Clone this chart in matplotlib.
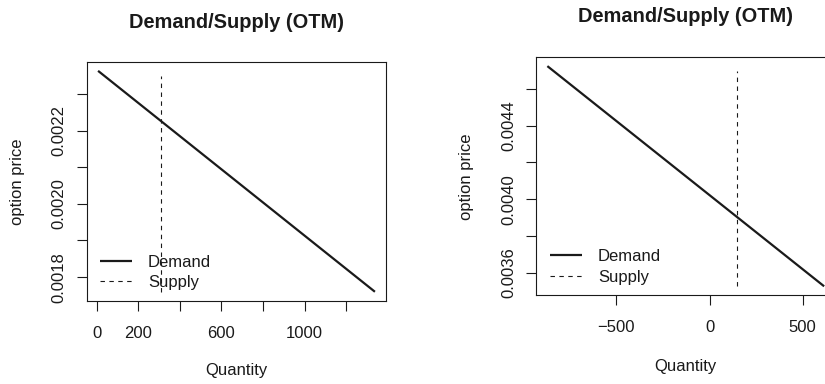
import matplotlib
matplotlib.use("Agg")
import matplotlib.pyplot as plt

# Demand / supply curves for the two option panels
left_demand_qty = [7, 1338]
left_demand_price = [0.002363, 0.001760]
left_supply_qty = [309, 309]
left_supply_price = [0.001759, 0.002350]

right_demand_qty = [-870, 615]
right_demand_price = [0.004725, 0.003525]
right_supply_qty = [145, 145]
right_supply_price = [0.003524, 0.004696]

left_xticks = [0, 200, 400, 600, 800, 1000, 1200]
left_xlabels = ["0", "200", "", "600", "", "1000", ""]
left_yticks = [0.0018, 0.0019, 0.0020, 0.0021, 0.0022, 0.0023]
left_ylabels = ["0.0018", "", "0.0020", "", "0.0022", ""]

right_xticks = [-500, 0, 500]
right_xlabels = ["\u2212500", "0", "500"]
right_yticks = [0.0036, 0.0038, 0.0040, 0.0042, 0.0044, 0.0046]
right_ylabels = ["0.0036", "", "0.0040", "", "0.0044", ""]

title = "Demand/Supply (OTM)"
xlabel = "Quantity"
ylabel = "option price"
legend_labels = ["Demand", "Supply"]

plt.rcParams["font.family"] = ["Liberation Sans", "DejaVu Sans"]
INK = "#1a1a1a"

W, H = 825, 384
fig = plt.figure(figsize=(W / 100, H / 100), dpi=100)


def box(l, t, r, b):
    return [l / W, 1 - b / H, (r - l) / W, (b - t) / H]


def fx(x):
    return x / W


def fy(y):
    return 1 - y / H


def panel(rect, dq, dp, sq, sp, xt, xl, yt, yl):
    ax = fig.add_axes(rect)
    ax.plot(dq, dp, color=INK, lw=1.6, solid_capstyle="butt")
    ax.plot(sq, sp, color=INK, lw=0.8, ls=(0, (4, 4)))
    ax.margins(x=0.04, y=0.04)
    ax.set_xticks(xt)
    ax.set_xticklabels(xl)
    ax.set_yticks(yt)
    ax.set_yticklabels(yl, rotation=90, va="center")
    ax.tick_params(length=7.5, width=0.8, color=INK, labelcolor=INK,
                   labelsize=12)
    ax.tick_params(axis="x", pad=10.5)
    ax.tick_params(axis="y", pad=7.2)
    for s in ax.spines.values():
        s.set_linewidth(0.8)
        s.set_color(INK)
    return ax


ax1 = panel(box(87, 62, 386, 301), left_demand_qty, left_demand_price,
            left_supply_qty, left_supply_price,
            left_xticks, left_xlabels, left_yticks, left_ylabels)
ax2 = panel(box(536.3, 57.3, 835.2, 295.3), right_demand_qty, right_demand_price,
            right_supply_qty, right_supply_price,
            right_xticks, right_xlabels, right_yticks, right_ylabels)

for ax, l in ((ax1, 101), (ax2, 551)):
    pos = ax.get_position()
    ax.legend(legend_labels, loc="lower left", frameon=False,
              fontsize=12, handlelength=1.95, handletextpad=0.95,
              labelspacing=0.32, borderpad=0, borderaxespad=0,
              bbox_to_anchor=((fx(l) - pos.x0) / pos.width - 0.005, 0.045),
              labelcolor=INK)

# Titles and axis labels
for cx, ty, xly in ((236.5, 22.7, 371), (685.8, 16, 366.7)):
    fig.text(fx(cx), fy(ty), title, ha="center", va="center",
             fontsize=14.4, fontweight="bold", color=INK)
    fig.text(fx(cx), fy(xly), xlabel, ha="center", va="center",
             fontsize=12, color=INK)

for ax, lx in ((ax1, 18), (ax2, 467)):
    pos = ax.get_position()
    fig.text(fx(lx), (pos.y0 + pos.y1) / 2, ylabel, rotation=90,
             ha="center", va="center", fontsize=12, color=INK)

fig.savefig("out.png", dpi=100)
